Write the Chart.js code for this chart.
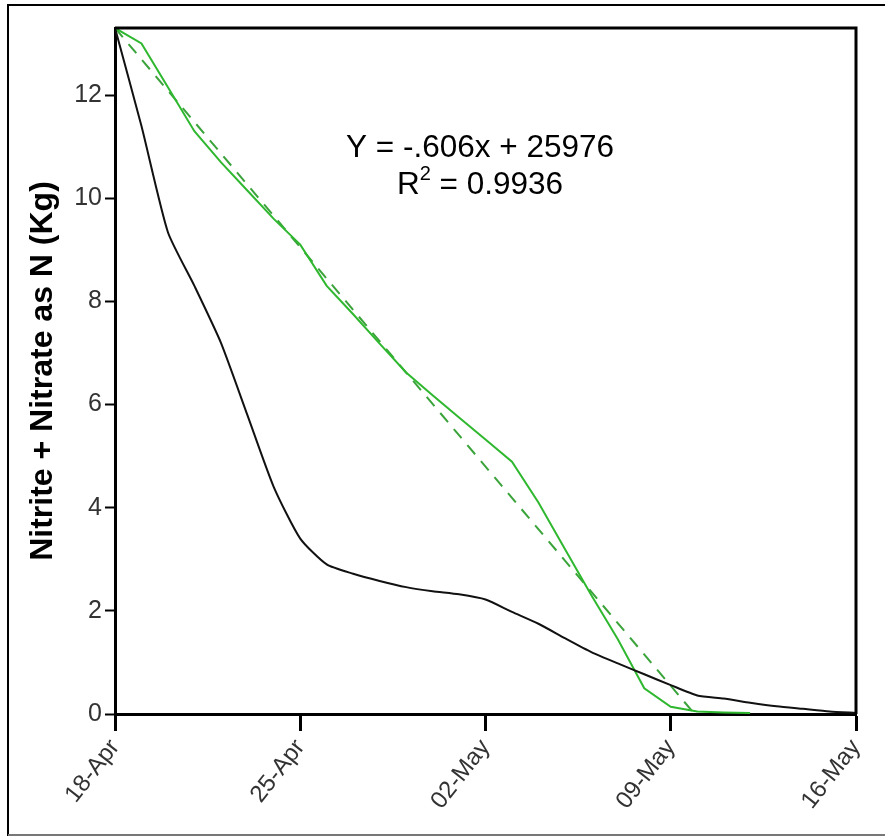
<!DOCTYPE html>
<html>
<head>
<meta charset="utf-8">
<script src="https://cdn.jsdelivr.net/npm/chart.js@4.4.0/dist/chart.umd.min.js"></script>
<style>
  html, body { margin: 0; padding: 0; background: #fff; }
  #chart { display: block; }
</style>
</head>
<body>
<canvas id="chart" width="885" height="838"></canvas>
<script>
// days after 18-Apr
const days = [0, 1, 2, 3, 4, 5, 6, 7, 8, 9, 10, 11, 12, 13, 14, 15, 16, 17, 18, 19, 20, 21, 22, 23, 24, 25, 26, 27, 28]
const blackValues = [13.3, 11.4, 9.34, 8.3, 7.2, 5.8, 4.4, 3.4, 2.9, 2.72, 2.58, 2.46, 2.38, 2.32, 2.22, 1.98, 1.75, 1.47, 1.2, 0.98, 0.77, 0.56, 0.36, 0.3, 0.22, 0.15, 0.1, 0.05, 0.02]
const greenDays = [0, 1, 2, 3, 4, 5, 6, 7, 8, 9, 10, 11, 12, 13, 14, 15, 16, 17, 18, 19, 20, 21, 22, 23, 24]
const greenValues = [13.3, 13.0, 12.15, 11.3, 10.7, 10.15, 9.6, 9.1, 8.3, 7.75, 7.18, 6.62, 6.18, 5.75, 5.32, 4.89, 4.1, 3.2, 2.3, 1.45, 0.5, 0.14, 0.05, 0.03, 0.02]
const trendDays = [0, 21.9]
const trendValues = [13.3, 0]

const xTickDays = [0, 7, 14, 21, 28]
const xTickLabels = ['18-Apr', '25-Apr', '02-May', '09-May', '16-May']
const yTicks = [0, 2, 4, 6, 8, 10, 12]

const eqLine1 = 'Y = -.606x + 25976'
const eqLine2 = ' = 0.9936'

const FONT = '"Liberation Sans", Arial, sans-serif'

function points(xs, ys) {
    return xs.map(function (x, i) { return { x: x, y: ys[i] } })
}

const frame = {
    id: 'frame',
    beforeDraw: function (chart) {
        const ctx = chart.ctx
        ctx.save()
        ctx.fillStyle = '#fff'
        ctx.fillRect(0, 0, chart.width, chart.height)
        ctx.strokeStyle = '#000'
        ctx.lineWidth = 2
        ctx.beginPath()
        ctx.moveTo(885, 5)
        ctx.lineTo(8, 5)
        ctx.lineTo(8, 836)
        ctx.stroke()
        ctx.strokeStyle = '#777'
        ctx.beginPath()
        ctx.moveTo(8, 835)
        ctx.lineTo(885, 835)
        ctx.stroke()
        ctx.restore()
    },
    afterDraw: function (chart) {
        const ctx = chart.ctx
        const a = chart.chartArea
        ctx.save()
        // top and right side of the plot box
        ctx.strokeStyle = '#000'
        ctx.lineWidth = 3
        ctx.beginPath()
        ctx.moveTo(a.left, a.top)
        ctx.lineTo(a.right, a.top)
        ctx.lineTo(a.right, a.bottom)
        ctx.stroke()

        // regression text
        const cx = 480
        ctx.fillStyle = '#000'
        ctx.textBaseline = 'alphabetic'
        ctx.font = '31.5px ' + FONT
        ctx.textAlign = 'center'
        ctx.fillText(eqLine1, cx, 157)
        const wR = ctx.measureText('R').width
        const wRest = ctx.measureText(eqLine2).width
        ctx.font = '20px ' + FONT
        const wSup = ctx.measureText('2').width
        const start = cx - (wR + wSup + wRest) / 2
        ctx.textAlign = 'left'
        ctx.fillText('2', start + wR, 180)
        ctx.font = '31.5px ' + FONT
        ctx.fillText('R', start, 194)
        ctx.fillText(eqLine2, start + wR + wSup, 194)
        ctx.restore()
    }
}

new Chart(document.getElementById('chart'), {
    type: 'line',
    data: {
        datasets: [
            {
                label: 'Total',
                data: points(days, blackValues),
                borderColor: '#111',
                borderWidth: 2,
                pointRadius: 0,
                tension: 0.2,
                fill: false
            },
            {
                label: 'Green',
                data: points(greenDays, greenValues),
                borderColor: '#2fb82f',
                borderWidth: 2,
                pointRadius: 0,
                tension: 0,
                fill: false
            },
            {
                label: 'Trend',
                data: points(trendDays, trendValues),
                borderColor: '#3aa33a',
                borderWidth: 2,
                borderDash: [12, 9],
                pointRadius: 0,
                tension: 0,
                fill: false
            }
        ]
    },
    options: {
        responsive: false,
        animation: false,
        layout: { padding: { top: 28, right: 29, left: 0, bottom: 0 } },
        plugins: {
            legend: { display: false },
            tooltip: { enabled: false }
        },
        scales: {
            x: {
                type: 'linear',
                min: 0,
                max: 28,
                afterFit: function (scale) { scale.height = 124 },
                afterBuildTicks: function (scale) {
                    scale.ticks = xTickDays.map(function (v) { return { value: v } })
                },
                grid: { drawOnChartArea: false, drawTicks: true, tickLength: 17, tickColor: '#000', tickWidth: 3 },
                border: { display: true, color: '#000', width: 3 },
                ticks: {
                    autoSkip: false,
                    minRotation: 52,
                    maxRotation: 52,
                    padding: 3,
                    color: '#333',
                    font: { family: FONT, size: 24 },
                    callback: function (value) {
                        const i = xTickDays.indexOf(value)
                        return i >= 0 ? xTickLabels[i] : ''
                    }
                }
            },
            y: {
                min: 0,
                max: 13.3,
                afterFit: function (scale) { scale.width = 115 },
                afterBuildTicks: function (scale) {
                    scale.ticks = yTicks.map(function (v) { return { value: v } })
                },
                grid: { drawOnChartArea: false, drawTicks: true, tickLength: 10, tickColor: '#000', tickWidth: 2 },
                border: { display: true, color: '#000', width: 3 },
                ticks: {
                    padding: 3,
                    color: '#333',
                    font: { family: FONT, size: 25 }
                },
                title: {
                    display: true,
                    text: 'Nitrite + Nitrate as N (Kg)',
                    color: '#000',
                    padding: { top: 24, bottom: 0 },
                    font: { family: FONT, size: 32, weight: 'bold' }
                }
            }
        }
    },
    plugins: [frame]
});
</script>
</body>
</html>
